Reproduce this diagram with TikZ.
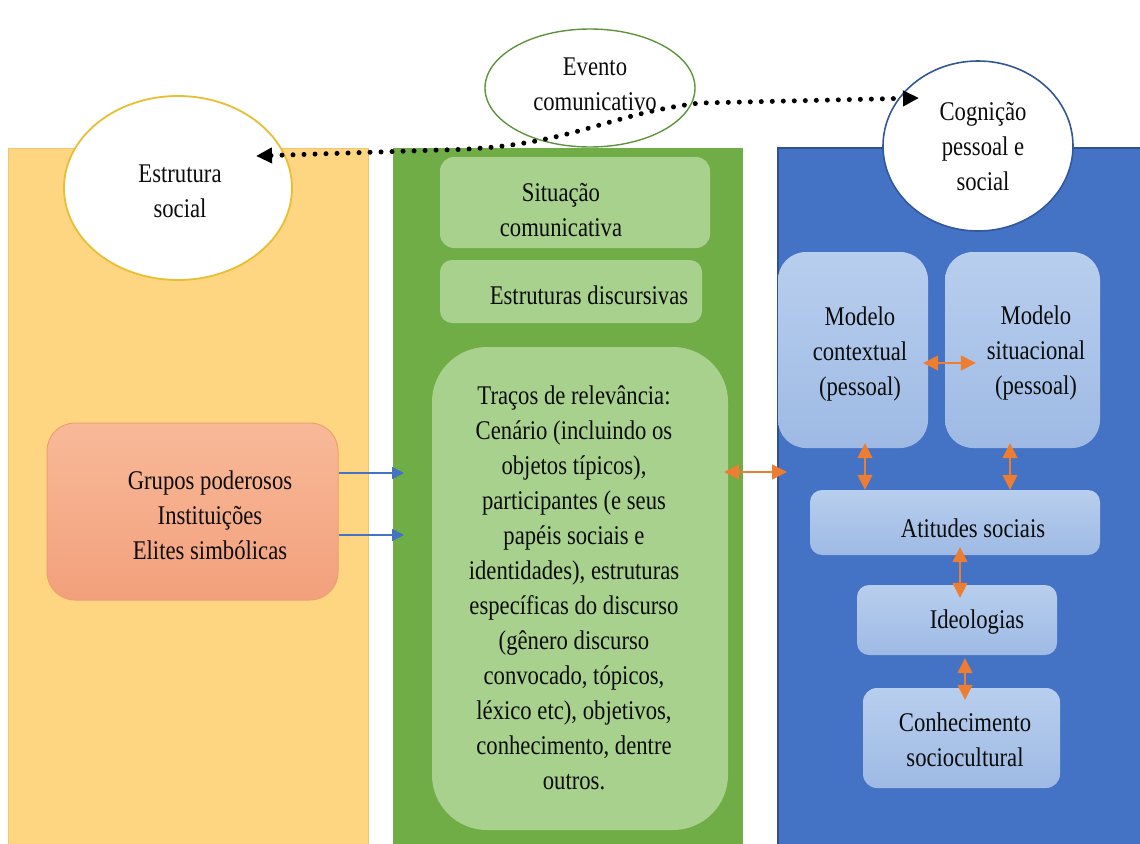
\documentclass[tikz,border=0pt]{standalone}
\usepackage{fontspec}
\setmainfont{Liberation Serif}[FakeStretch=0.84]
\usetikzlibrary{shapes.geometric,arrows.meta,calc}

\definecolor{ink}{RGB}{12,12,12}
\definecolor{sandfill}{RGB}{254,214,130}
\definecolor{sandline}{RGB}{240,198,108}
\definecolor{leaf}{RGB}{112,173,71}
\definecolor{leaflight}{RGB}{169,209,142}
\definecolor{sea}{RGB}{68,114,196}
\definecolor{seadark}{RGB}{47,82,143}
\definecolor{skytop}{RGB}{184,206,238}
\definecolor{skybot}{RGB}{158,186,228}
\definecolor{salmontop}{RGB}{248,185,152}
\definecolor{salmonbot}{RGB}{243,160,124}
\definecolor{salmonline}{RGB}{236,160,112}
\definecolor{tangerine}{RGB}{237,125,49}
\definecolor{gold}{RGB}{232,190,50}

\begin{document}
\begin{tikzpicture}[x=1pt,y=-1pt,
  txt/.style={font=\fontsize{27}{35}\selectfont, align=center, text=ink, inner sep=0pt},
  gbox/.style={rectangle, fill=leaflight, inner sep=0pt},
  bbox/.style={rectangle, top color=skytop, bottom color=skybot, inner sep=0pt},
  oval/.style={ellipse, fill=white, line width=1.8pt, inner sep=0pt},
  barrow/.style={draw=sea, line width=1.4pt, -{Triangle[length=12pt,width=12pt]}},
  oarrow/.style={draw=tangerine, line width=1.5pt,
    {Triangle[length=15pt,width=15pt]}-{Triangle[length=15pt,width=15pt]}},
  dotline/.style={draw=black, line width=5pt, line cap=round,
    dash pattern=on 0.01pt off 11pt,
    {Triangle[length=16pt,width=15pt]}-{Triangle[length=16pt,width=15pt]}}
]
\useasboundingbox (0,0) rectangle (1140,843);
\fill[white] (0,0) rectangle (1140,843);

% three columns
\draw[fill=sandfill, draw=sandline, line width=1pt] (8,148) rectangle (368,860);
\fill[leaf] (393,148) rectangle (743,860);
\fill[sea] (777,147) rectangle (1150,860);
\draw[seadark, line width=2pt] (778,860) -- (778,148) -- (1150,148);

% left column
\node[rectangle, rounded corners=28pt, top color=salmontop, bottom color=salmonbot,
      draw=salmonline, line width=1pt, minimum width=291pt, minimum height=177pt,
      inner sep=0pt] (grupos) at (192.5,511.5) {};
\node[txt] (grupos-t) at (210,515) {Grupos poderosos\\Instituições\\Elites simbólicas};

% middle column
\node[gbox, rounded corners=14pt, minimum width=270pt, minimum height=91pt] (sit) at (575,202.5) {};
\node[txt] (sit-t) at (561,210) {Situação\\comunicativa};
\node[gbox, rounded corners=12pt, minimum width=262pt, minimum height=63pt] (estr) at (571,291.5) {};
\node[txt] (estr-t) at (589,295) {Estruturas discursivas};
\node[gbox, rounded corners=55pt, minimum width=296pt, minimum height=483pt] (tracos) at (580,588.5) {};
\node[txt] (tracos-t) at (574,588) {Traços de relevância:\\Cenário (incluindo os\\objetos típicos),\\participantes (e seus\\papéis sociais e\\identidades), estruturas\\específicas do discurso\\(gênero discurso\\convocado, tópicos,\\léxico etc), objetivos,\\conhecimento, dentre\\outros.};

% right column
\node[bbox, rounded corners=28pt, minimum width=150pt, minimum height=196pt] (mctx) at (853,350) {};
\node[txt] (mctx-t) at (860,354) {Modelo\\contextual\\(pessoal)};
\node[bbox, rounded corners=28pt, minimum width=155pt, minimum height=196pt] (msit) at (1022.5,350) {};
\node[txt] (msit-t) at (1036,353) {Modelo\\situacional\\(pessoal)};
\node[bbox, rounded corners=12pt, minimum width=290pt, minimum height=65pt] (atit) at (955,522.5) {};
\node[txt] (atit-t) at (973,528) {Atitudes sociais};
\node[bbox, rounded corners=12pt, minimum width=200pt, minimum height=70pt] (ideo) at (957,620) {};
\node[txt] (ideo-t) at (977,622) {Ideologias};
\node[bbox, rounded corners=14pt, minimum width=197pt, minimum height=100pt] (conh) at (961.5,738) {};
\node[txt] (conh-t) at (965,740) {Conhecimento\\sociocultural};

% heading ovals
\node[oval, draw=gold, minimum width=228pt, minimum height=184pt] (estrutura) at (178,188) {};
\node[txt] (estrutura-t) at (180,191) {Estrutura\\social};
\node[oval, draw=leaf!85!black, line width=1.4pt, minimum width=210pt, minimum height=118pt] (evento) at (590,88) {};
\node[oval, draw=seadark!80!sea, line width=1.6pt, minimum width=190pt, minimum height=170pt] (cognicao) at (978,146) {};
\node[txt] (cognicao-t) at (983,147) {Cognição\\pessoal e\\social};

% links from the power groups into the communicative event
\coordinate (b1) at (404,473);
\coordinate (b2) at (404,535);
\draw[barrow] (grupos.east |- b1) -- (b1);
\draw[barrow] (grupos.east |- b2) -- (b2);

% two-way links in the cognition column
\coordinate (o1) at (787,472);
\draw[oarrow, shorten <=-4pt] (tracos.east |- o1) -- (o1);
\coordinate (o2) at (0,363);
\draw[oarrow, shorten <=-5pt, shorten >=-31pt] (mctx.east |- o2) -- (msit.west |- o2);
\coordinate (v1) at (865,0);
\coordinate (v2) at (1010,0);
\coordinate (v3) at (960,0);
\coordinate (v4) at (965,0);
\draw[oarrow, shorten <=-5pt] (mctx.south -| v1) -- (atit.north -| v1);
\draw[oarrow, shorten <=-5pt] (msit.south -| v2) -- (atit.north -| v2);
\draw[oarrow, shorten <=-8pt, shorten >=-13pt] (atit.south -| v3) -- (ideo.north -| v3);
\draw[oarrow, shorten <=3pt, shorten >=-12pt] (ideo.south -| v4) -- (conh.north -| v4);

% dotted link between social structure and cognition
\coordinate (dl) at (256,156);
\coordinate (dr) at (919,98);
\draw[dotline] (dl) -- (440,150) .. controls (570,148) and (600,115) .. (700,103) -- (dr);

\node[txt] (evento-t) at (595,84) {Evento\\comunicativo};
\end{tikzpicture}
\end{document}
